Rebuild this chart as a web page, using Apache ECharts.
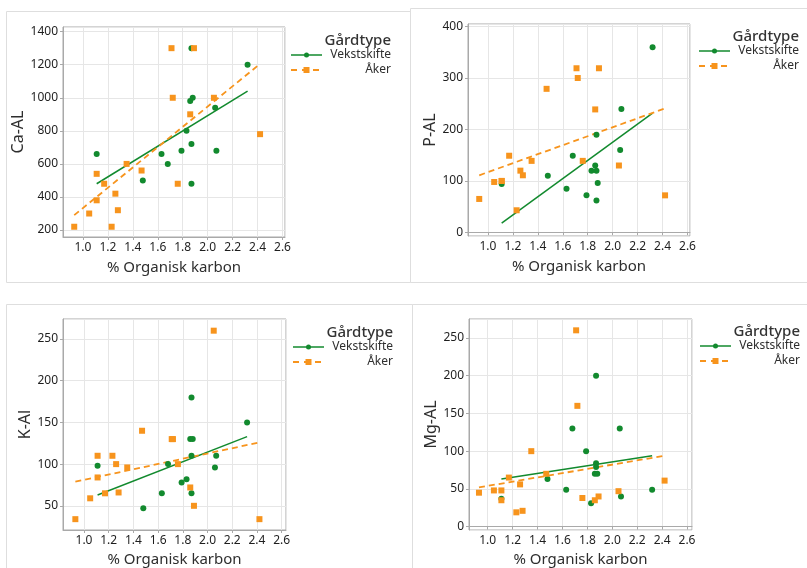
<!DOCTYPE html>
<html><head><meta charset="utf-8">
<script src="https://cdn.jsdelivr.net/npm/echarts@6/dist/echarts.min.js"></script>
<style>html,body{margin:0;padding:0;background:#fff}#c{width:807px;height:568px}</style>
</head><body><div id="c"></div>
<script>
// ---------- data ----------
const xAxisTitle = '% Organisk karbon';
const legendTitle = 'Gårdtype';
const groupNames = ['Vekstskifte', 'Åker'];
const yTitles = ['Ca-AL', 'P-AL', 'K-Al', 'Mg-AL'];

// % organic carbon per farm
const vekstOC = [1.11, 1.48, 1.63, 1.68, 1.79, 1.83, 1.86, 1.88, 1.87, 1.87, 1.87, 2.06, 2.07, 2.32];
const akerOC  = [0.93, 1.05, 1.11, 1.11, 1.17, 1.23, 1.26, 1.28, 1.35, 1.47, 1.71, 1.72, 1.76, 1.86, 1.89, 2.05, 2.42];

const caVekst = [660, 500, 660, 600, 680, 800, 980, 1000, 1300, 720, 480, 940, 680, 1200];
const caAker  = [220, 300, 380, 540, 480, 220, 420, 320, 600, 560, 1300, 1000, 480, 900, 1300, 1000, 780];
const pVekst  = [94, 110, 85, 149, 72, 120, 130, 96, 190, 120, 62, 160, 240, 360];
const pAker   = [65, 98, 100, 100, 149, 43, 120, 111, 139, 279, 319, 300, 139, 239, 319, 130, 72];
const kVekst  = [98, 47, 65, 100, 78, 82, 130, 130, 180, 110, 65, 96, 110, 150];
const kAker   = [34, 59, 110, 84, 65, 110, 100, 66, 96, 140, 130, 130, 100, 72, 50, 260, 34];
const mgVekst = [37, 63, 49, 130, 100, 31, 70, 70, 200, 84, 79, 130, 40, 49];
const mgAker  = [45, 48, 48, 35, 65, 19, 56, 21, 100, 70, 260, 160, 38, 35, 40, 47, 61];

// fitted regression lines (end points)
const fitVekstX = [1.11, 2.32];
const fitAkerX  = [0.93, 2.42];
const caFitVekst = [480, 1040], caFitAker = [290, 1205];
const pFitVekst  = [18, 232],   pFitAker  = [111, 241];
const kFitVekst  = [63, 133],   kFitAker  = [79, 126];
const mgFitVekst = [63, 94],    mgFitAker = [52, 94];

const xTickStep = 0.2;
const yTickSteps = [200, 100, 50, 50];

// ---------- layout / style ----------
const GREEN = '#128a2e', ORANGE = '#f7941d';
const FONT = 'Noto Sans';
const panels = [
  {vek: caVekst, ak: caAker, fv: caFitVekst, fa: caFitAker,
   g: {left: 63, top: 27, width: 222, height: 210}, x: [0.84, 2.62], y: [158, 1428],
   frame: [6, 11, 404, 271], leg: [391, 41], yGap: 28, xGap: 23},
  {vek: pVekst, ak: pAker, fv: pFitVekst, fa: pFitAker,
   g: {left: 468, top: 24, width: 222, height: 212}, x: [0.84, 2.62], y: [-7, 405],
   frame: [410, 8, 400, 274], leg: [799, 37], yGap: 30, xGap: 23},
  {vek: kVekst, ak: kAker, fv: kFitVekst, fa: kFitAker,
   g: {left: 63, top: 319, width: 223, height: 211}, x: [0.83, 2.635], y: [21, 274],
   frame: [6, 304, 406, 268], leg: [393, 333], yGap: 29, xGap: 22},
  {vek: mgVekst, ak: mgAker, fv: mgFitVekst, fa: mgFitAker,
   g: {left: 469, top: 319, width: 223, height: 211}, x: [0.85, 2.64], y: [-4.4, 275],
   frame: [412, 304, 400, 268], leg: [800, 332], yGap: 30, xGap: 22}
];

const zip = (a, b) => a.map((v, i) => [v, b[i]]);

const grid = [], xAxis = [], yAxis = [], series = [], graphic = [];
panels.forEach((p, i) => {
  grid.push(Object.assign({show: true, borderColor: '#a9a9a9', borderWidth: 1, backgroundColor: '#fff'}, p.g));
  xAxis.push({
    gridIndex: i, type: 'value', min: p.x[0], max: p.x[1],
    minInterval: xTickStep, maxInterval: xTickStep,
    name: xAxisTitle, nameLocation: 'middle', nameGap: p.xGap,
    nameTextStyle: {fontFamily: FONT, fontSize: 15, color: '#2e2e2e'},
    axisLine: {show: true, lineStyle: {color: '#a9a9a9'}},
    axisTick: {show: true, length: 3, lineStyle: {color: '#a9a9a9'}},
    axisLabel: {fontFamily: FONT, fontSize: 12, color: '#1e1e1e', margin: 5, interval: 0,
      showMinLabel: false, showMaxLabel: false, formatter: v => v.toFixed(1)},
    splitLine: {show: true, lineStyle: {color: '#e6e6e6', width: 1}}
  });
  yAxis.push({
    gridIndex: i, type: 'value', min: p.y[0], max: p.y[1],
    minInterval: yTickSteps[i], maxInterval: yTickSteps[i],
    name: yTitles[i], nameLocation: 'middle', nameGap: p.yGap,
    nameTextStyle: {fontFamily: FONT, fontSize: 16, color: '#2e2e2e'},
    axisLine: {show: true, lineStyle: {color: '#a9a9a9'}},
    axisTick: {show: true, length: 3, lineStyle: {color: '#a9a9a9'}},
    axisLabel: {fontFamily: FONT, fontSize: 12, color: '#1e1e1e', margin: 5,
      showMinLabel: false, showMaxLabel: false, formatter: v => String(Math.round(v))},
    splitLine: {show: true, lineStyle: {color: '#e6e6e6', width: 1}}
  });
  series.push({
    type: 'line', xAxisIndex: i, yAxisIndex: i, data: zip(fitVekstX, p.fv),
    showSymbol: false, silent: true, z: 2,
    lineStyle: {color: GREEN, width: 1.5}
  });
  series.push({
    type: 'line', xAxisIndex: i, yAxisIndex: i, data: zip(fitAkerX, p.fa),
    showSymbol: false, silent: true, z: 2,
    lineStyle: {color: ORANGE, width: 1.8, type: [6, 4]}
  });
  series.push({
    name: groupNames[0], type: 'scatter', xAxisIndex: i, yAxisIndex: i,
    data: zip(vekstOC, p.vek), symbol: 'circle', symbolSize: 6, z: 3,
    itemStyle: {color: GREEN, opacity: 1}
  });
  series.push({
    name: groupNames[1], type: 'scatter', xAxisIndex: i, yAxisIndex: i,
    data: zip(akerOC, p.ak), symbol: 'rect', symbolSize: 6, z: 4,
    itemStyle: {color: ORANGE, opacity: 1}
  });

  // panel frame
  graphic.push({type: 'rect', silent: true, z: -10,
    shape: {x: p.frame[0] + 0.5, y: p.frame[1] + 0.5, width: p.frame[2], height: p.frame[3]},
    style: {fill: 'none', stroke: '#dedede', lineWidth: 1}});
  // legend
  const rx = p.leg[0], ty = p.leg[1];
  const lx0 = rx - 100, lx1 = rx - 69, lmid = (lx0 + lx1) / 2;
  graphic.push({type: 'text', silent: true, x: rx, y: ty,
    style: {text: legendTitle, font: '500 15px "' + FONT + '"', fill: '#333', align: 'right', verticalAlign: 'middle'}});
  graphic.push({type: 'text', silent: true, x: rx, y: ty + 14,
    style: {text: groupNames[0], font: '12px "' + FONT + '"', fill: '#2e2e2e', align: 'right', verticalAlign: 'middle'}});
  graphic.push({type: 'text', silent: true, x: rx, y: ty + 29,
    style: {text: groupNames[1], font: '12px "' + FONT + '"', fill: '#2e2e2e', align: 'right', verticalAlign: 'middle'}});
  graphic.push({type: 'line', silent: true, shape: {x1: lx0, y1: ty + 14, x2: lx1, y2: ty + 14},
    style: {stroke: GREEN, lineWidth: 1.5}});
  graphic.push({type: 'circle', silent: true, shape: {cx: lmid, cy: ty + 14, r: 2.5}, style: {fill: GREEN}});
  graphic.push({type: 'line', silent: true, shape: {x1: lx0, y1: ty + 29, x2: lx1, y2: ty + 29},
    style: {stroke: ORANGE, lineWidth: 1.8, lineDash: [6, 5]}});
  graphic.push({type: 'rect', silent: true, shape: {x: lmid - 3, y: ty + 26, width: 6, height: 6}, style: {fill: ORANGE}});
});

const chart = echarts.init(document.getElementById('c'), null, {renderer: 'canvas'});
chart.setOption({
  animation: false,
  backgroundColor: '#fff',
  textStyle: {fontFamily: FONT},
  grid, xAxis, yAxis, series, graphic
});
</script>
</body></html>
